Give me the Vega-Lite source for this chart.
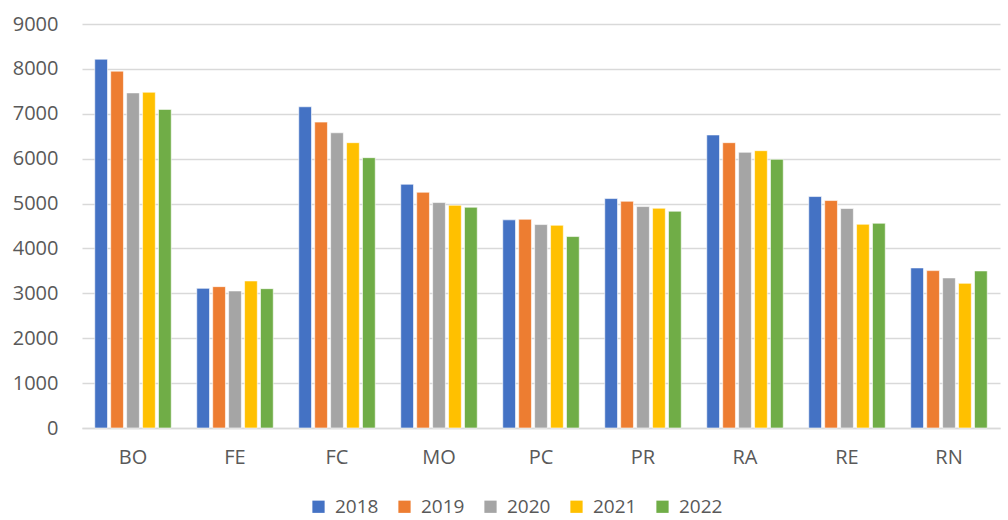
{
  "$schema": "https://vega.github.io/schema/vega-lite/v6.json",
  "autosize": {"type": "none"},
  "width": 918,
  "height": 404,
  "padding": {"left": 82, "top": 24, "right": 8, "bottom": 92},
  "background": "white",
  "data": {"values": [
    {"cat": "BO", "year": "2018", "value": 8216},
    {"cat": "BO", "year": "2019", "value": 7950},
    {"cat": "BO", "year": "2020", "value": 7465},
    {"cat": "BO", "year": "2021", "value": 7480},
    {"cat": "BO", "year": "2022", "value": 7098},
    {"cat": "FE", "year": "2018", "value": 3111},
    {"cat": "FE", "year": "2019", "value": 3149},
    {"cat": "FE", "year": "2020", "value": 3053},
    {"cat": "FE", "year": "2021", "value": 3276},
    {"cat": "FE", "year": "2022", "value": 3104},
    {"cat": "FC", "year": "2018", "value": 7156},
    {"cat": "FC", "year": "2019", "value": 6815},
    {"cat": "FC", "year": "2020", "value": 6577},
    {"cat": "FC", "year": "2021", "value": 6356},
    {"cat": "FC", "year": "2022", "value": 6022},
    {"cat": "MO", "year": "2018", "value": 5430},
    {"cat": "MO", "year": "2019", "value": 5252},
    {"cat": "MO", "year": "2020", "value": 5022},
    {"cat": "MO", "year": "2021", "value": 4962},
    {"cat": "MO", "year": "2022", "value": 4918},
    {"cat": "PC", "year": "2018", "value": 4637},
    {"cat": "PC", "year": "2019", "value": 4650},
    {"cat": "PC", "year": "2020", "value": 4532},
    {"cat": "PC", "year": "2021", "value": 4517},
    {"cat": "PC", "year": "2022", "value": 4265},
    {"cat": "PR", "year": "2018", "value": 5111},
    {"cat": "PR", "year": "2019", "value": 5051},
    {"cat": "PR", "year": "2020", "value": 4933},
    {"cat": "PR", "year": "2021", "value": 4896},
    {"cat": "PR", "year": "2022", "value": 4829},
    {"cat": "RA", "year": "2018", "value": 6528},
    {"cat": "RA", "year": "2019", "value": 6356},
    {"cat": "RA", "year": "2020", "value": 6142},
    {"cat": "RA", "year": "2021", "value": 6178},
    {"cat": "RA", "year": "2022", "value": 5985},
    {"cat": "RE", "year": "2018", "value": 5156},
    {"cat": "RE", "year": "2019", "value": 5067},
    {"cat": "RE", "year": "2020", "value": 4889},
    {"cat": "RE", "year": "2021", "value": 4539},
    {"cat": "RE", "year": "2022", "value": 4561},
    {"cat": "RN", "year": "2018", "value": 3566},
    {"cat": "RN", "year": "2019", "value": 3506},
    {"cat": "RN", "year": "2020", "value": 3343},
    {"cat": "RN", "year": "2021", "value": 3223},
    {"cat": "RN", "year": "2022", "value": 3499}
  ]},
  "mark": {"type": "bar", "stroke": "white", "strokeWidth": 0.6},
  "encoding": {
    "x": {
      "field": "cat", "type": "nominal", "sort": null,
      "scale": {"paddingInner": 0.25, "paddingOuter": 0.125},
      "axis": {
        "title": null, "labelAngle": 0, "labelFont": "Open Sans", "labelFontSize": 20,
        "labelColor": "#595959", "labelPadding": 19, "ticks": false,
        "domainColor": "#D9D9D9", "domainWidth": 1.5, "grid": false
      }
    },
    "xOffset": {"field": "year", "type": "nominal", "scale": {"paddingInner": 0.2, "paddingOuter": 0}},
    "y": {
      "field": "value", "type": "quantitative",
      "scale": {"domain": [0, 9000], "nice": false},
      "axis": {
        "title": null, "values": [0, 1000, 2000, 3000, 4000, 5000, 6000, 7000, 8000, 9000],
        "format": "d",
        "labelFont": "Open Sans", "labelFontSize": 20, "labelColor": "#595959",
        "labelPadding": 24, "ticks": false, "domain": false,
        "gridColor": "#D9D9D9", "gridWidth": 1.5
      }
    },
    "color": {
      "field": "year", "type": "nominal",
      "scale": {"domain": ["2018", "2019", "2020", "2021", "2022"],
                "range": ["#4472C4", "#ED7D31", "#A5A5A5", "#FFC000", "#70AD47"]},
      "legend": {
        "title": null, "orient": "none", "direction": "horizontal",
        "legendX": 227, "legendY": 473,
        "symbolType": "square", "symbolSize": 150, "symbolStrokeWidth": 0,
        "labelFont": "Open Sans", "labelFontSize": 19, "labelColor": "#595959",
        "labelOffset": 7, "columnPadding": 16
      }
    }
  },
  "config": {"view": {"stroke": null}}
}
